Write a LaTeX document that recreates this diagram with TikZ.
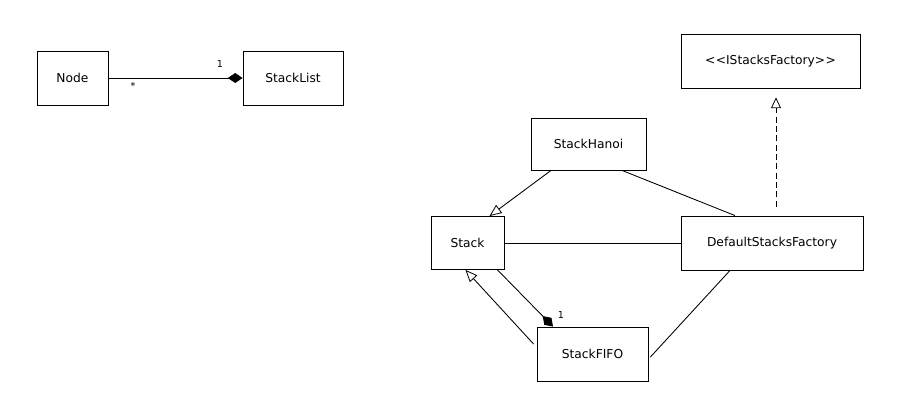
\documentclass[tikz,border=0pt]{standalone}
\usepackage{fontspec}
\setmainfont{DejaVu Sans}
\usetikzlibrary{arrows.meta,calc}
\begin{document}
\begin{tikzpicture}[x=0.75pt,y=-0.75pt,
  cls/.style={draw,line width=0.65pt,fill=white,font=\fontsize{9.2}{11}\selectfont,inner sep=0pt},
  conn/.style={line width=0.65pt},
  gen/.style={conn,-{Triangle[open,length=9pt,width=7.5pt,line width=0.6pt]}},
  comp/.style={conn,-{Diamond[length=11pt,width=7.5pt]}},
  real/.style={conn,dash pattern=on 4.5pt off 2.5pt,-{Triangle[open,length=8pt,width=7.5pt,line width=0.6pt]}},
  mult/.style={font=\fontsize{7.2}{8}\selectfont,inner sep=0pt}]
\useasboundingbox[fill=white] (0,0) rectangle (903,413);
\node[cls,minimum width=53.25pt,minimum height=40.5pt] (N) at (72.5,78) {Node};
\node[cls,minimum width=75pt,minimum height=40.5pt] (SL) at (293,78) {StackList};
\node[cls,minimum width=134.25pt,minimum height=40.5pt] (IS) at (770.5,61) {<\kern0.4pt<IStacksFactory>\kern0.4pt>};
\node[cls,minimum width=86.25pt,minimum height=39pt] (SH) at (588.5,144) {StackHanoi};
\node[cls,minimum width=54.75pt,minimum height=39.75pt] (S) at (467.5,243) {Stack};
\node[cls,minimum width=83.25pt,minimum height=40.5pt] (SF) at (592.5,354) {StackFIFO};
\node[cls,minimum width=136.5pt,minimum height=40.5pt] (D) at (772,243) {DefaultStacksFactory};

\draw[comp] (N.east) -- (SL.west);
\node[mult] (m1) at (220,64) {1};
\node[mult] (m2) at (133,86) {*};

\draw[gen] ($(SH.south)+(-37.5,0)$) -- ($(S.north)+(22,0)$);
\draw[conn] ($(SH.south)+(33.5,0)$) -- ($(D.north)+(-37,0)$);
\draw[conn] (S.east) -- (D.west);
\draw[gen] ($(SF.west)+(-3,-10)$) -- ($(S.south)+(-2,0)$);
\draw[comp] ($(S.south)+(30,0)$) -- ($(SF.north)+(-39.5,0)$);
\node[mult] (m3) at (561,315) {1};
\draw[conn] ($(SF.east)+(2,3)$) -- ($(D.south)+(-42,0)$);
\draw[real] ($(D.north)+(4,-9)$) -- ($(IS.south)+(5.5,9)$);
\end{tikzpicture}
\end{document}
